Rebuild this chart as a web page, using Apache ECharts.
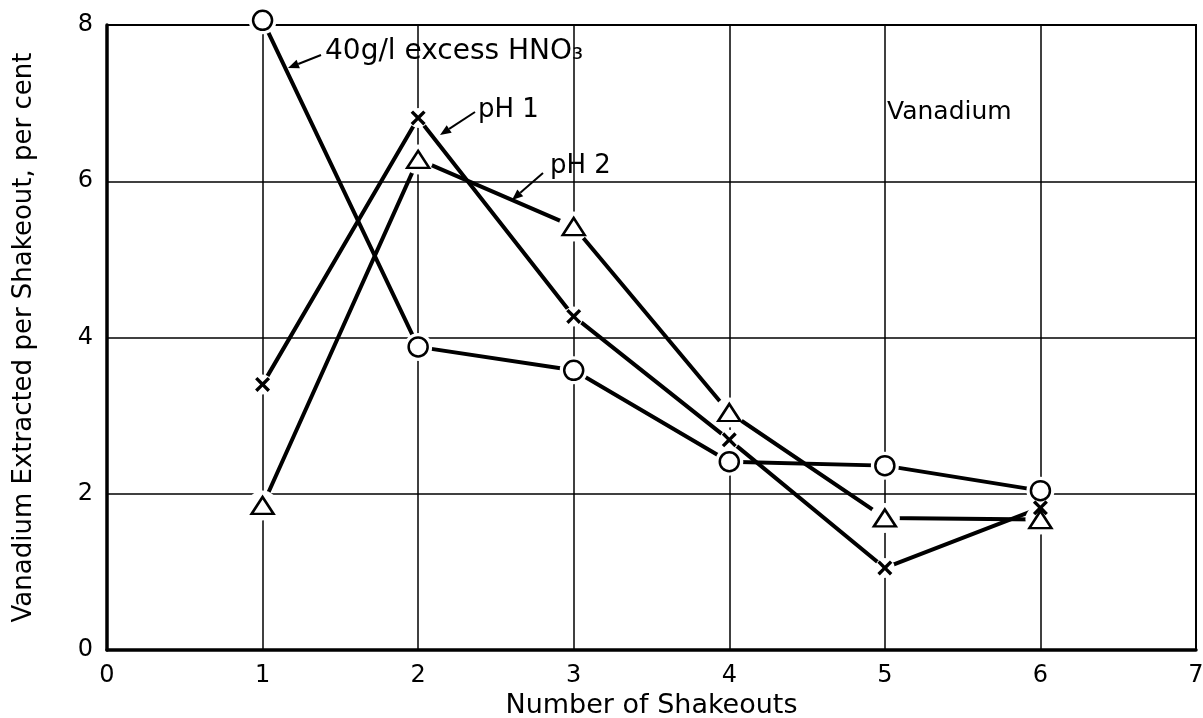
<!DOCTYPE html>
<html>
<head>
<meta charset="utf-8">
<script src="https://cdn.jsdelivr.net/npm/echarts@6/dist/echarts.min.js"></script>
<style>
html,body{margin:0;padding:0;background:#fff;}
#main{width:1203px;height:718px;}
</style>
</head>
<body>
<div id="main"></div>
<script>
// ---- data ----
var shakeouts = [1, 2, 3, 4, 5, 6];
var excessHNO3 = [8.06, 3.88, 3.58, 2.41, 2.36, 2.04];   // circles
var pH1 = [3.40, 6.81, 4.27, 2.69, 1.05, 1.82];          // crosses
var pH2 = [1.85, 6.28, 5.42, 3.04, 1.69, 1.67];          // triangles
var xTicks = ['0', '1', '2', '3', '4', '5', '6', '7'];
var yTicks = ['0', '2', '4', '6', '8'];

function pairs(vals) { return shakeouts.map(function (x, i) { return [x, vals[i]]; }); }

var FONT = 'DejaVu Sans';
var crossPath = 'path://M0,1.6L1.6,0L5,3.4L8.4,0L10,1.6L6.6,5L10,8.4L8.4,10L5,6.6L1.6,10L0,8.4L3.4,5Z';

function lineSeries(vals) {
  return { type: 'line', data: pairs(vals), symbol: 'none', clip: false, z: 2,
    lineStyle: { color: '#000', width: 4 }, silent: true };
}
function halo(vals, size) {
  return { type: 'scatter', data: pairs(vals), symbol: 'circle', symbolSize: size, clip: false, z: 3,
    itemStyle: { color: '#fff', borderWidth: 0, opacity: 1 }, silent: true };
}

var chart = echarts.init(document.getElementById('main'), null, { renderer: 'canvas' });

var option = {
  backgroundColor: '#fff',
  animation: false,
  grid: { left: 107, right: 7, top: 25, bottom: 68, containLabel: false, outerBoundsMode: 'none',
    show: true, borderColor: '#000', borderWidth: 2, backgroundColor: 'transparent' },
  xAxis: {
    type: 'value', min: 0, max: 7, interval: 1,
    name: 'Number of Shakeouts', nameLocation: 'middle', nameGap: 36,
    nameTextStyle: { fontFamily: FONT, fontSize: 27, color: '#000' },
    axisLine: { show: true, lineStyle: { color: '#000', width: 3.5 } },
    axisTick: { show: false },
    axisLabel: { fontFamily: FONT, fontSize: 24, color: '#000', margin: 14,
      formatter: function (v) { return xTicks[v]; } },
    splitLine: { show: true, lineStyle: { color: '#000', width: 1.5 } }
  },
  yAxis: {
    type: 'value', min: 0, max: 8, interval: 2,
    name: 'Vanadium Extracted per Shakeout, per cent', nameLocation: 'middle', nameGap: 70,
    nameTextStyle: { fontFamily: FONT, fontSize: 26, color: '#000' },
    axisLine: { show: true, lineStyle: { color: '#000', width: 3.5 } },
    axisTick: { show: false },
    axisLabel: { fontFamily: FONT, fontSize: 24, color: '#000', margin: 14,
      formatter: function (v) { return yTicks[v / 2]; } },
    splitLine: { show: true, lineStyle: { color: '#000', width: 1.5 } }
  },
  series: [
    lineSeries(excessHNO3), lineSeries(pH1), lineSeries(pH2),
    halo(excessHNO3, 28), halo(pH1, 20), halo(pH2, 30),
    { type: 'scatter', data: pairs(excessHNO3), symbol: 'circle', symbolSize: 19, clip: false, z: 4,
      itemStyle: { color: '#fff', borderColor: '#000', borderWidth: 2.5, opacity: 1 } },
    { type: 'scatter', data: pairs(pH1), symbol: crossPath, symbolSize: 15, clip: false, z: 4,
      itemStyle: { color: '#000', borderWidth: 0, opacity: 1 } },
    { type: 'scatter', data: pairs(pH2), symbol: 'triangle', symbolSize: [22, 17], clip: false, z: 4,
      itemStyle: { color: '#fff', borderColor: '#000', borderWidth: 2.5, opacity: 1 } }
  ]
};
chart.setOption(option);

// ---- annotations (labels with arrows) ----
function arrow(x1, y1, x2, y2) {
  var ang = Math.atan2(y2 - y1, x2 - x1), L = 11, W = 4.5;
  var bx = x2 - L * Math.cos(ang), by = y2 - L * Math.sin(ang);
  var px = -Math.sin(ang) * W, py = Math.cos(ang) * W;
  return [
    { type: 'line', shape: { x1: x1, y1: y1, x2: bx, y2: by }, style: { stroke: '#000', lineWidth: 2 }, z: 10 },
    { type: 'polygon', shape: { points: [[x2, y2], [bx + px, by + py], [bx - px, by - py]] }, style: { fill: '#000' }, z: 10 }
  ];
}
function label(text, x, y, size) {
  return { type: 'text', x: x, y: y, z: 10,
    style: { text: text, fontFamily: FONT, fontSize: size || 26, fill: '#000', textVerticalAlign: 'middle', verticalAlign: 'middle' } };
}
var g = [];
g.push(label('40g/l excess HNO\u2083', 325, 52, 28));
g = g.concat(arrow(321, 55, 288, 68));
g.push(label('pH 1', 478, 110));
g = g.concat(arrow(475, 112, 440, 135));
g.push(label('pH 2', 550, 166));
g = g.concat(arrow(543, 173, 512, 200));
g.push(label('Vanadium', 887, 112, 25));
chart.setOption({ graphic: g });
</script>
</body>
</html>
